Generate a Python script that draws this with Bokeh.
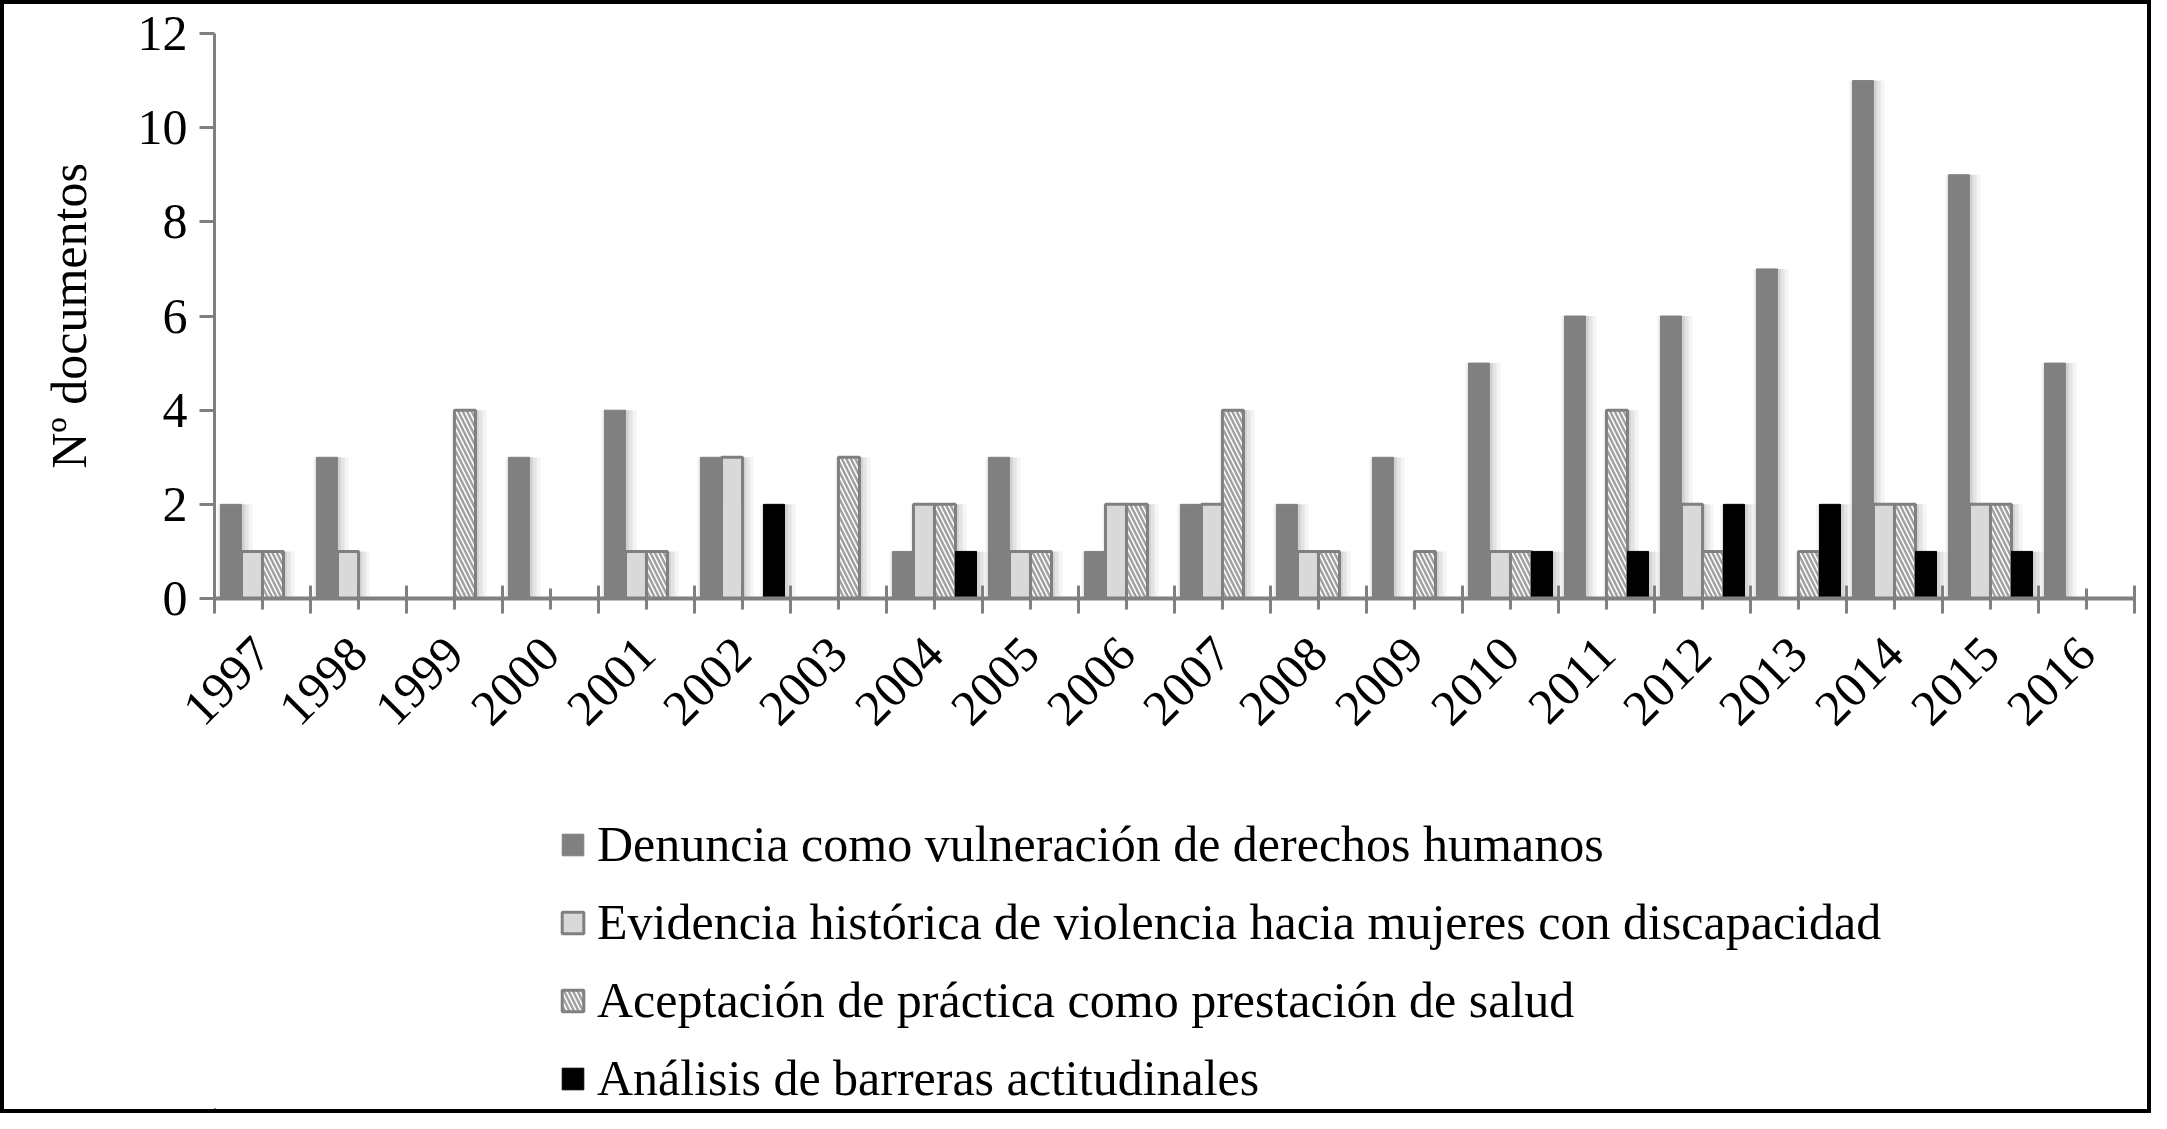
from math import pi
from bokeh.plotting import figure
from bokeh.layouts import column
from bokeh.models import Range1d, FixedTicker, Legend, LegendItem, ColumnDataSource
from bokeh.transform import dodge
from bokeh.embed import file_html
from bokeh.resources import INLINE

# ---------------- data ----------------
years = ["1997", "1998", "1999", "2000", "2001", "2002", "2003", "2004", "2005", "2006",
         "2007", "2008", "2009", "2010", "2011", "2012", "2013", "2014", "2015", "2016"]
denuncia   = [2, 3, 0, 3, 4, 3, 0, 1, 3, 1, 2, 2, 3, 5, 6, 6, 7, 11, 9, 5]
evidencia  = [1, 1, 0, 0, 1, 3, 0, 2, 1, 2, 2, 1, 0, 1, 0, 2, 0, 2, 2, 0]
aceptacion = [1, 0, 4, 0, 1, 0, 3, 2, 1, 2, 4, 1, 1, 1, 4, 1, 1, 2, 2, 0]
analisis   = [0, 0, 0, 0, 0, 2, 0, 1, 0, 0, 0, 0, 0, 1, 1, 2, 2, 1, 1, 0]
series_names = [
    "Denuncia como vulneración de derechos humanos",
    "Evidencia histórica de violencia hacia mujeres con discapacidad",
    "Aceptación de práctica como prestación de salud",
    "Análisis de barreras actitudinales",
]
y_ticks = [0, 2, 4, 6, 8, 10, 12]
y_title = "Nº documentos"

FONT = "Liberation Serif"
GRAY = "#808080"

# series styles
styles = [
    dict(fill_color=GRAY, line_color=GRAY, line_width=1),
    dict(fill_color="#d9d9d9", line_color=GRAY, line_width=3),
    dict(fill_color="white", line_color=GRAY, line_width=3,
         hatch_pattern="\\", hatch_color="#a0a0a0", hatch_weight=2.5, hatch_scale=9),
    dict(fill_color="black", line_color="black", line_width=1),
]

src = ColumnDataSource(dict(
    x=[i + 0.5 for i in range(len(years))],
    year=years,
    denuncia=denuncia,
    evidencia=evidencia,
    aceptacion=aceptacion,
    analisis=analisis,
))

W_IN = 2143
P_H = 780
Q_H = 1105 - P_H

p = figure(width=W_IN, height=P_H,
           x_range=Range1d(0, len(years)), y_range=Range1d(0, 12),
           output_backend="svg", toolbar_location=None,
           min_border_left=210, min_border_right=13,
           min_border_top=29, min_border_bottom=P_H - 594)
p.outline_line_color = None
p.xgrid.visible = False
p.ygrid.visible = False
p.background_fill_color = "white"
p.border_fill_color = "white"

bw = 0.219
offsets = [-0.328, -0.109, 0.109, 0.328]
cols = ["denuncia", "evidencia", "aceptacion", "analisis"]

# soft shadows (Excel-like glow)
for off, col in zip(offsets, cols):
    for extra, shift, alpha in [(0.15, 0.04, 0.045), (0.09, 0.03, 0.06), (0.035, 0.02, 0.08)]:
        p.vbar(x=dodge("x", off + shift, range=p.x_range), top=col, bottom=0, width=bw + extra,
               source=src, fill_color="black", fill_alpha=alpha, line_color=None)

for off, col, st in zip(offsets, cols, styles):
    p.vbar(x=dodge("x", off, range=p.x_range), top=col, bottom=0, width=bw,
           source=src, **st)

# x axis
xa = p.xaxis[0]
xa.ticker = FixedTicker(ticks=[i + 0.5 for i in range(len(years))],
                        minor_ticks=list(range(len(years) + 1)))
xa.major_label_overrides = {i + 0.5: y for i, y in enumerate(years)}
xa.major_label_orientation = pi / 4
xa.major_label_text_font = FONT
xa.major_label_text_font_size = "50px"
xa.major_label_text_color = "black"
xa.major_label_standoff = 32
xa.axis_line_color = GRAY
xa.axis_line_width = 4
xa.major_tick_line_color = GRAY
xa.major_tick_line_width = 3
xa.major_tick_in = 10
xa.major_tick_out = 11
xa.minor_tick_line_color = GRAY
xa.minor_tick_line_width = 3
xa.minor_tick_in = 13
xa.minor_tick_out = 15

# y axis
ya = p.yaxis[0]
ya.ticker = FixedTicker(ticks=y_ticks)
ya.major_label_text_font = FONT
ya.major_label_text_font_size = "50px"
ya.major_label_text_color = "black"
ya.major_label_standoff = 12
ya.axis_line_color = GRAY
ya.axis_line_width = 3
ya.major_tick_line_color = GRAY
ya.major_tick_line_width = 3
ya.major_tick_in = 0
ya.major_tick_out = 15
ya.minor_tick_line_color = None
ya.axis_label = y_title
ya.axis_label_text_font = FONT
ya.axis_label_text_font_size = "50px"
ya.axis_label_text_font_style = "normal"
ya.axis_label_text_color = "black"
ya.axis_label_standoff = 38

# legend panel (separate figure below the chart); its bars sit outside its visible range
q = figure(width=W_IN, height=Q_H, x_range=Range1d(100, 101), y_range=Range1d(100, 101),
           output_backend="svg", toolbar_location=None,
           x_axis_location=None, y_axis_location=None,
           min_border=0, min_border_left=0, min_border_right=0,
           min_border_top=0, min_border_bottom=0)
q.outline_line_color = None
q.xgrid.visible = False
q.ygrid.visible = False
q.background_fill_color = "white"
q.border_fill_color = "white"

legend_renderers = [q.vbar(x=dodge("x", off, range=q.x_range), top=col, bottom=0, width=bw,
                           source=src, **st)
                    for off, col, st in zip(offsets, cols, styles)]

legend = Legend(items=[LegendItem(label=n, renderers=[r]) for n, r in zip(series_names, legend_renderers)],
                location=(345, 2), orientation="vertical",
                label_text_font=FONT, label_text_font_size="50px", label_text_color="black",
                glyph_width=27, glyph_height=27, label_standoff=11,
                spacing=20, padding=0, margin=0,
                border_line_color=None, background_fill_alpha=0)
q.add_layout(legend, "center")

layout = column(p, q, spacing=0,
                styles={"border": "4px solid black", "background-color": "white"})

open("out.html", "w").write(file_html(layout, INLINE))
